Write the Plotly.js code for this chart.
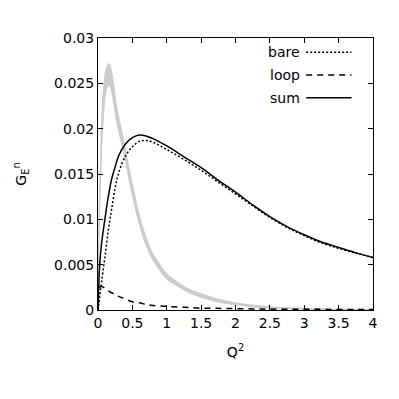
<!DOCTYPE html>
<html>
<head>
<meta charset="utf-8">
<script src="https://cdn.plot.ly/plotly-3.0.1.min.js"></script>
<style>
  html, body { margin: 0; padding: 0; background: #fff; }
  #chart { width: 399px; height: 399px; }
</style>
</head>
<body>
<div id="chart"></div>
<script>
// Q^2 grid for the model curves
const q2 = [0, 0.025, 0.05, 0.1, 0.15, 0.2, 0.25, 0.3, 0.4, 0.5, 0.6, 0.7, 0.8, 1.0, 1.25, 1.5, 1.75, 2.0, 2.25, 2.5, 2.75, 3.0, 3.25, 3.5, 3.75, 4.0];
const bare = [0, 0.0015, 0.0030, 0.0058, 0.0088, 0.0112, 0.0135, 0.0151, 0.0170, 0.0180, 0.0186, 0.0187, 0.0185, 0.0177, 0.0166, 0.0154, 0.0141, 0.0128, 0.0115, 0.0102, 0.0091, 0.0082, 0.0074, 0.0068, 0.0063, 0.0058];
const loop = [0, 0.0025, 0.0026, 0.0024, 0.0021, 0.0019, 0.0017, 0.0015, 0.0012, 0.0009, 0.0008, 0.0006, 0.0005, 0.0004, 0.0003, 0.0002, 0.00018, 0.00015, 0.00012, 0.0001, 0.00009, 0.00008, 0.00007, 0.00006, 0.00005, 0.00005];
const sum = [0, 0.0050, 0.0072, 0.0100, 0.0125, 0.0145, 0.0158, 0.0170, 0.0183, 0.0190, 0.0193, 0.0192, 0.0189, 0.0181, 0.0169, 0.0157, 0.0143, 0.0130, 0.0116, 0.0103, 0.0092, 0.0083, 0.0075, 0.0069, 0.0063, 0.0058];

// grey band
const bandQ2 = [0, 0.02, 0.05, 0.08, 0.12, 0.16, 0.2, 0.27, 0.36, 0.49, 0.61, 0.75, 0.85, 1.0, 1.1, 1.3, 1.5, 1.8, 2.0, 2.3, 2.6, 3.0, 3.5, 4.0];
const bandUpper = [0, 0.012, 0.020, 0.0245, 0.0266, 0.0272, 0.0262, 0.0225, 0.0192, 0.0142, 0.0102, 0.0070, 0.0056, 0.0040, 0.0034, 0.0024, 0.0018, 0.0011, 0.0008, 0.0005, 0.0003, 0.0002, 0.0001, 0.00005];
const bandLower = [0, 0.010, 0.017, 0.0215, 0.0242, 0.0248, 0.0240, 0.0208, 0.0178, 0.0130, 0.0092, 0.0062, 0.0049, 0.0034, 0.0029, 0.0020, 0.0014, 0.0008, 0.0006, 0.0003, 0.0002, 0.0001, 0.00005, 0.00002];

const legendNames = ['bare', 'loop', 'sum'];
const legendDash = ['2px,2px', '6px,5px', 'solid'];

const font = { family: 'DejaVu Sans, sans-serif', size: 14, color: '#000' };

const traces = [
  { x: bandQ2, y: bandLower, mode: 'lines', line: { color: '#cccccc', width: 1, shape: 'spline' }, showlegend: false, hoverinfo: 'skip' },
  { x: bandQ2, y: bandUpper, mode: 'lines', fill: 'tonexty', fillcolor: '#cccccc', line: { color: '#cccccc', width: 1, shape: 'spline' }, showlegend: false, hoverinfo: 'skip' },
  { x: q2, y: bare, mode: 'lines', name: 'bare', line: { color: '#000', width: 1.5, dash: legendDash[0], shape: 'spline' } },
  { x: q2, y: loop, mode: 'lines', name: 'loop', line: { color: '#000', width: 1.5, dash: legendDash[1], shape: 'spline' } },
  { x: q2, y: sum, mode: 'lines', name: 'sum', line: { color: '#000', width: 1.5, shape: 'spline' } }
];

// gnuplot-style key: text on the left, sample line on the right
const keyY = [0.948, 0.864, 0.780];
const annotations = legendNames.map((n, i) => ({
  xref: 'paper', yref: 'paper', x: 0.74, y: keyY[i], xanchor: 'right', yanchor: 'middle',
  text: n, showarrow: false, font: font
}));
const shapes = legendNames.map((n, i) => ({
  type: 'line', xref: 'paper', yref: 'paper', x0: 0.757, x1: 0.922, y0: keyY[i], y1: keyY[i],
  line: { color: '#000', width: 1.5, dash: legendDash[i] }
}));

const axisCommon = {
  showline: true, linecolor: '#000', linewidth: 1, mirror: 'ticks',
  ticks: 'inside', ticklen: 5, tickcolor: '#000', tickwidth: 1,
  showgrid: false, zeroline: false, tickfont: font
};

const layout = {
  width: 399, height: 399,
  margin: { l: 98, r: 26, t: 38, b: 89 },
  paper_bgcolor: '#fff', plot_bgcolor: '#fff',
  showlegend: false,
  font: font,
  xaxis: Object.assign({}, axisCommon, {
    range: [0, 4], dtick: 0.5,
    title: { text: 'Q<sup>2</sup>', font: font, standoff: 17 }
  }),
  yaxis: Object.assign({}, axisCommon, {
    range: [0, 0.03], dtick: 0.005,
    title: { text: 'G<sub>E</sub><sup>n</sup>', font: font, standoff: 24 }
  }),
  annotations: annotations,
  shapes: shapes
};

Plotly.newPlot('chart', traces, layout, { staticPlot: true });
</script>
</body>
</html>
